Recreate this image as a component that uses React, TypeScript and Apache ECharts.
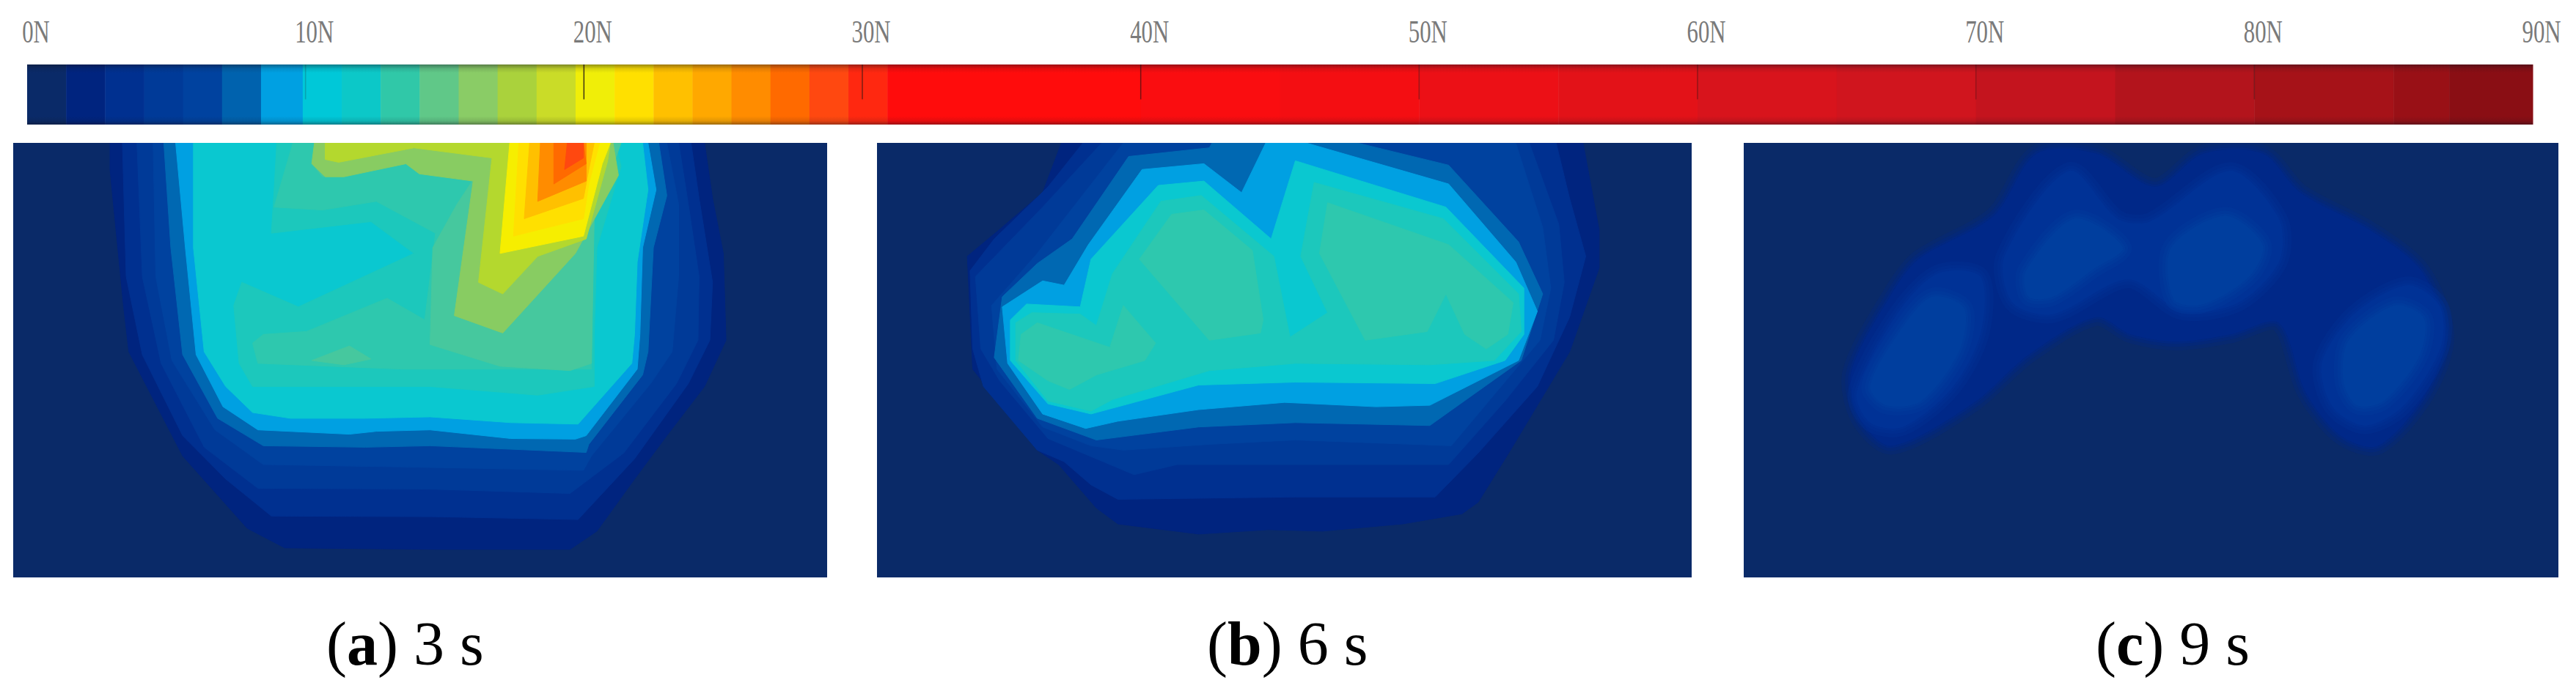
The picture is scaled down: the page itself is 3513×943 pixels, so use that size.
import React, { useEffect, useRef } from "react";
import * as echarts from "echarts";

type Band = [number, number[][]];

const tickValues = [0, 10, 20, 30, 40, 50, 60, 70, 80, 90];
const tickLabels = ["0N", "10N", "20N", "30N", "40N", "50N", "60N", "70N", "80N", "90N"];
const tickMarkOpacity = [0, 0.2, 0.85, 0.6, 0.6, 0.4, 0.4, 0.3, 0.35, 0];
const captionTexts = [["(", "a", ") 3 s"], ["(", "b", ") 6 s"], ["(", "c", ") 9 s"]];
const captionLefts = [445, 1646, 2858];

const barColors = [
  "#0a2a68", "#00247f", "#003090", "#003a98", "#00429f", "#0062ae", "#00a0e2", "#00c8d8", "#0cc8c8",
  "#30c8a8", "#60c888", "#8acc66", "#aad23c", "#cadc28", "#f0ee08", "#ffe000", "#ffc000", "#ffa800",
  "#ff8c00", "#ff6a00", "#ff4810", "#ff2810",
];
const contourColors = [
  "#0a2a68", "#00247f", "#003090", "#003a98", "#00429f", "#0068b2", "#00a0e2", "#0ac8d0", "#1cc8bc",
  "#2ec8ae", "#46c89e", "#88cc62", "#b4d82e", "#d4e020", "#f6ee00", "#ffe000", "#ffc000", "#ffa800",
  "#ff8c00", "#ff6a00", "#ff4810", "#ff2810",
];
const softColors = ["#0a2a68", "#002888", "#003296", "#003e9e"];
const barEdges = [0, 1.4, 2.8, 4.2, 5.6, 7.0, 8.4, 9.9, 11.3, 12.7, 14.1, 15.5, 16.9, 18.3, 19.7, 21.1, 22.5, 23.9, 25.3, 26.7, 28.1, 29.5, 30.9];
const redEdges = [30.9, 40, 45, 50, 55, 60, 65, 70, 75, 80, 85, 87, 90];
const redColors = ["#ff0c0c", "#fa0d10", "#f40e12", "#ec1016", "#e31218", "#d8141c", "#d0151e", "#c4141e", "#b3141c", "#a61218", "#991016", "#8a0e14"];

const panelA: Band[] = [
  [1, [[205, 38], [1310, 38], [1325, 230], [1345, 420], [1350, 720], [1310, 880], [1240, 1050], [1180, 1200], [1110, 1380], [1060, 1443], [810, 1443], [530, 1438], [460, 1370], [340, 1120], [240, 760], [230, 600], [205, 130]]],
  [2, [[228, 38], [1285, 38], [1300, 230], [1325, 520], [1320, 720], [1280, 870], [1180, 1130], [1075, 1340], [800, 1330], [505, 1328], [420, 1200], [340, 1050], [265, 770], [235, 500]]],
  [3, [[255, 38], [1262, 38], [1280, 250], [1300, 500], [1298, 720], [1258, 870], [1160, 1110], [1060, 1250], [800, 1235], [480, 1232], [380, 1090], [300, 800], [265, 500]]],
  [4, [[285, 38], [1240, 38], [1262, 250], [1262, 500], [1250, 760], [1210, 870], [1100, 1120], [1085, 1170], [800, 1160], [490, 1150], [400, 1030], [320, 790], [290, 500]]],
  [5, [[305, 38], [1225, 38], [1240, 220], [1215, 400], [1205, 760], [1195, 840], [1095, 1080], [1090, 1108], [800, 1085], [680, 1090], [490, 1085], [405, 990], [340, 770], [318, 400]]],
  [6, [[327, 38], [1205, 38], [1220, 200], [1195, 400], [1190, 700], [1185, 820], [1090, 1050], [1070, 1062], [950, 1060], [800, 1030], [700, 1035], [650, 1045], [480, 1030], [415, 950], [365, 770], [345, 400]]],
  [7, [[360, 38], [1195, 38], [1205, 200], [1185, 450], [1180, 700], [1175, 800], [1075, 1010], [950, 1005], [800, 985], [680, 990], [540, 990], [470, 970], [420, 880], [380, 760], [360, 400]]],
  [8, [[515, 38], [1145, 38], [1155, 120], [1110, 400], [1105, 700], [1105, 880], [1000, 910], [800, 880], [600, 880], [470, 880], [445, 800], [435, 600], [450, 520], [555, 605], [770, 420], [690, 310], [505, 350], [510, 200]]],
  [9, [[545, 38], [1135, 38], [1100, 300], [1100, 820], [900, 820], [750, 820], [480, 800], [470, 730], [490, 700], [570, 690], [720, 575], [790, 650], [810, 350], [700, 240], [600, 270], [510, 260]]],
  [10, [[590, 38], [1155, 38], [1105, 300], [1100, 800], [1060, 825], [930, 810], [800, 735], [805, 400], [850, 250], [880, 165], [755, 110], [640, 150], [600, 155], [580, 110]]],
  [10, [[580, 790], [650, 740], [690, 785], [640, 805]]],
  [11, [[585, 38], [1140, 38], [1150, 150], [1070, 420], [935, 695], [845, 635], [880, 170], [780, 145], [755, 110], [640, 155], [605, 155], [580, 110]]],
  [12, [[605, 38], [1135, 38], [1130, 100], [1090, 370], [1000, 430], [935, 560], [890, 520], [915, 90], [770, 55], [630, 105], [605, 95]]],
  [14, [[948, 38], [1135, 38], [1120, 110], [1085, 360], [930, 420]]],
  [15, [[965, 38], [1115, 38], [1095, 180], [1085, 300], [955, 360]]],
  [16, [[985, 38], [1105, 38], [1095, 130], [1085, 230], [975, 300]]],
  [18, [[1005, 38], [1090, 38], [1090, 170], [1000, 240]]],
  [19, [[1030, 38], [1085, 38], [1090, 110], [1030, 180]]],
  [20, [[1055, 38], [1085, 38], [1085, 90], [1050, 130]]],
];

const panelB: Band[] = [
  [1, [[365, 38], [1335, 38], [1365, 340], [1365, 470], [1310, 760], [1200, 1100], [1140, 1280], [1110, 1320], [1000, 1355], [850, 1380], [750, 1375], [620, 1390], [470, 1355], [430, 1300], [360, 1150], [320, 1100], [200, 820], [190, 430], [245, 345], [330, 210]]],
  [2, [[405, 38], [1285, 38], [1310, 230], [1340, 430], [1310, 640], [1250, 880], [1140, 1110], [1060, 1262], [800, 1262], [470, 1270], [420, 1220], [370, 1140], [320, 1100], [220, 880], [200, 750], [195, 480], [240, 370], [340, 190]]],
  [3, [[440, 38], [1235, 38], [1290, 320], [1300, 520], [1280, 720], [1190, 930], [1085, 1150], [800, 1150], [580, 1150], [500, 1185], [430, 1130], [340, 1060], [250, 860], [215, 750], [205, 500], [330, 260]]],
  [4, [[480, 38], [1210, 38], [1260, 330], [1275, 540], [1255, 720], [1160, 930], [1090, 1085], [800, 1065], [640, 1080], [480, 1100], [420, 1085], [330, 1020], [245, 820], [235, 600], [320, 420]]],
  [5, [[640, 55], [645, 38], [915, 38], [1085, 115], [1215, 380], [1260, 560], [1220, 790], [1050, 1015], [800, 1005], [620, 1020], [430, 1065], [320, 990], [240, 780], [255, 570], [320, 455], [385, 370], [490, 85]]],
  [6, [[745, 38], [820, 38], [1085, 180], [1210, 450], [1250, 620], [1215, 790], [1050, 945], [950, 950], [780, 935], [620, 960], [470, 1000], [410, 1025], [330, 975], [265, 800], [255, 605], [330, 515], [370, 530], [415, 390], [515, 130], [630, 110], [700, 210]]],
  [7, [[800, 100], [1080, 260], [1225, 540], [1225, 700], [1190, 790], [1060, 870], [800, 865], [620, 875], [450, 960], [420, 975], [340, 940], [270, 790], [270, 650], [300, 595], [400, 605], [420, 440], [545, 185], [630, 170], [755, 370]]],
  [8, [[835, 175], [1075, 300], [1215, 560], [1220, 690], [1170, 790], [1050, 805], [800, 800], [640, 825], [460, 925], [420, 965], [340, 930], [280, 790], [280, 660], [310, 625], [400, 630], [430, 670], [460, 490], [550, 240], [625, 220], [760, 430], [790, 710], [860, 625], [810, 430]]],
  [9, [[570, 285], [630, 270], [720, 410], [740, 650], [735, 695], [640, 720], [510, 440]]],
  [9, [[860, 245], [1085, 390], [1205, 590], [1195, 700], [1155, 750], [1115, 700], [1080, 560], [1045, 690], [930, 720], [845, 420]]],
  [9, [[320, 660], [455, 745], [480, 600], [540, 730], [520, 790], [430, 840], [380, 890], [340, 860], [285, 790], [290, 700]]],
];

const panelC: Band[] = [
  [1, [[570, 75], [680, 75], [790, 190], [880, 75], [990, 75], [1060, 210], [1190, 340], [1285, 480], [1330, 700], [1295, 900], [1205, 1085], [1135, 1050], [1070, 900], [1020, 660], [930, 700], [830, 725], [745, 700], [680, 640], [555, 770], [450, 940], [300, 1085], [240, 990], [225, 830], [300, 560], [350, 440], [490, 290]]],
  [2, [[385, 490], [465, 500], [465, 700], [410, 890], [320, 1020], [260, 1005], [235, 900], [310, 630]]],
  [2, [[630, 135], [720, 300], [780, 310], [930, 135], [1020, 300], [1020, 450], [945, 590], [840, 620], [740, 510], [600, 630], [525, 590], [510, 430]]],
  [2, [[1260, 530], [1320, 605], [1320, 750], [1250, 950], [1180, 1015], [1120, 950], [1100, 800], [1160, 630]]],
  [3, [[375, 570], [435, 610], [425, 760], [355, 930], [290, 945], [260, 880], [315, 690]]],
  [3, [[640, 300], [730, 400], [675, 475], [600, 570], [555, 570], [550, 480]]],
  [3, [[920, 290], [990, 390], [965, 500], [880, 595], [825, 580], [820, 400]]],
  [3, [[1235, 600], [1290, 645], [1280, 780], [1215, 930], [1165, 945], [1140, 860], [1150, 720]]],
];

const contourSeries = (bands: Band[], idx: number, soft: boolean) => ({
  type: "custom",
  coordinateSystem: "cartesian2d",
  xAxisIndex: idx,
  yAxisIndex: idx,
  clip: true,
  silent: true,
  z: 2,
  data: bands.map((b) => [b[1][0][0], b[1][0][1], b[0]]),
  renderItem: (params: any, api: any) => {
    const band = bands[params.dataIndex];
    const points = band[1].map((p) => api.coord(p));
    if (!soft) {
      const fill = contourColors[band[0]];
      return { type: "polygon", shape: { points }, style: { fill, stroke: fill, lineWidth: 1 } };
    }
    const fill = softColors[band[0]];
    const mk = (lineWidth: number, opacity: number) => ({
      type: "polygon",
      shape: { points, smooth: 0.3 },
      style: { fill, stroke: fill, lineWidth, opacity, lineJoin: "round" },
    });
    return { type: "group", children: [mk(24, 0.25), mk(14, 0.35), mk(6, 0.5), mk(0, 1)] };
  },
});

const barSeries = (edges: number[], colors: string[]) => ({
  type: "custom",
  coordinateSystem: "cartesian2d",
  xAxisIndex: 3,
  yAxisIndex: 3,
  silent: true,
  z: 2,
  data: colors.map((_, i) => [edges[i], edges[i + 1]]),
  renderItem: (params: any, api: any) => {
    const a = api.coord([api.value(0), 1]);
    const b = api.coord([api.value(1), 0]);
    return { type: "rect", shape: { x: a[0], y: a[1], width: b[0] - a[0] + 0.5, height: b[1] - a[1] }, style: { fill: colors[params.dataIndex] } };
  },
});

const barEdgeShade = {
  type: "custom",
  coordinateSystem: "cartesian2d",
  xAxisIndex: 3,
  yAxisIndex: 3,
  silent: true,
  z: 3,
  data: [[0, 90]],
  renderItem: (_: any, api: any) => {
    const a = api.coord([0, 1]);
    const b = api.coord([90, 0]);
    return {
      type: "rect",
      shape: { x: a[0], y: a[1], width: b[0] - a[0], height: b[1] - a[1] },
      style: {
        fill: new echarts.graphic.LinearGradient(0, 0, 0, 1, [
          { offset: 0, color: "rgba(20,20,30,0.42)" },
          { offset: 0.07, color: "rgba(20,20,30,0.12)" },
          { offset: 0.14, color: "rgba(20,20,30,0)" },
          { offset: 0.86, color: "rgba(20,20,30,0)" },
          { offset: 0.94, color: "rgba(20,20,30,0.12)" },
          { offset: 1, color: "rgba(20,20,30,0.42)" },
        ]),
      },
    };
  },
};

const barTicks = {
  type: "custom",
  coordinateSystem: "cartesian2d",
  xAxisIndex: 3,
  yAxisIndex: 3,
  silent: true,
  clip: false,
  z: 4,
  data: tickValues.map((v) => [v, 1]),
  renderItem: (params: any, api: any) => {
    const i = params.dataIndex;
    const top = api.coord([api.value(0), 1]);
    const bottom = api.coord([api.value(0), 0.42]);
    return {
      type: "group",
      children: [
        {
          type: "line",
          shape: { x1: top[0], y1: top[1], x2: bottom[0], y2: bottom[1] },
          style: { stroke: "#201414", lineWidth: 1.5, opacity: tickMarkOpacity[i] },
        },
        {
          type: "text",
          x: top[0] + 12,
          y: top[1] - 23,
          scaleX: 0.7,
          style: {
            text: tickLabels[i],
            fontFamily: "'Liberation Serif', serif",
            fontSize: 44,
            fill: "#7a7a7a",
            align: "center",
            verticalAlign: "bottom",
          },
        },
      ],
    };
  },
};

const panelAxis = (min: number, max: number, gridIndex: number, inverse: boolean) => ({
  type: "value", gridIndex, min, max, inverse, show: false, splitLine: { show: false },
});

const captionFont = "'Liberation Serif', 'Times New Roman', serif";

export default function App() {
  const ref = useRef<HTMLDivElement>(null);
  useEffect(() => {
    const chart = echarts.init(ref.current!, undefined, { renderer: "svg" });
    const grid = (left: number, top: number, width: number, height: number) => ({
      left, top, width, height, show: true, borderWidth: 0, backgroundColor: contourColors[0],
    });
    chart.setOption({
      animation: false,
      backgroundColor: "#fff",
      grid: [
        grid(18, 195, 1110, 593),
        grid(1196, 195, 1111, 593),
        grid(2378, 195, 1111, 593),
        { left: 37, top: 88, width: 3417, height: 82, show: false },
      ],
      xAxis: [
        panelAxis(25, 1538, 0, false),
        panelAxis(22, 1537, 1, false),
        panelAxis(25, 1540, 2, false),
        { type: "value", gridIndex: 3, min: 0, max: 90, interval: 10, show: false, splitLine: { show: false } },
      ],
      yAxis: [
        panelAxis(38, 1540, 0, true),
        panelAxis(38, 1540, 1, true),
        panelAxis(38, 1540, 2, true),
        { type: "value", gridIndex: 3, min: 0, max: 1, show: false, splitLine: { show: false } },
      ],
      series: [
        contourSeries(panelA, 0, false),
        contourSeries(panelB, 1, false),
        contourSeries(panelC, 2, true),
        barSeries(barEdges, barColors),
        barSeries(redEdges, redColors),
        barEdgeShade,
        barTicks,
      ],
      graphic: captionTexts.map((c, i) => ({
        type: "text",
        left: captionLefts[i],
        top: 836,
        style: {
          text: `{n|${c[0]}}{b|${c[1]}}{n|${c[2]}}`,
          fontFamily: captionFont,
          fontSize: 84,
          fill: "#000",
          rich: {
            n: { fontFamily: captionFont, fontSize: 84, fill: "#000", color: "#000" },
            b: { fontFamily: captionFont, fontSize: 84, fontWeight: "bold", fill: "#000", color: "#000" },
          },
        },
      })),
    });
    return () => chart.dispose();
  }, []);
  return <div ref={ref} style={{ position: "fixed", left: 0, top: 0, width: 3513, height: 943 }} />;
}
